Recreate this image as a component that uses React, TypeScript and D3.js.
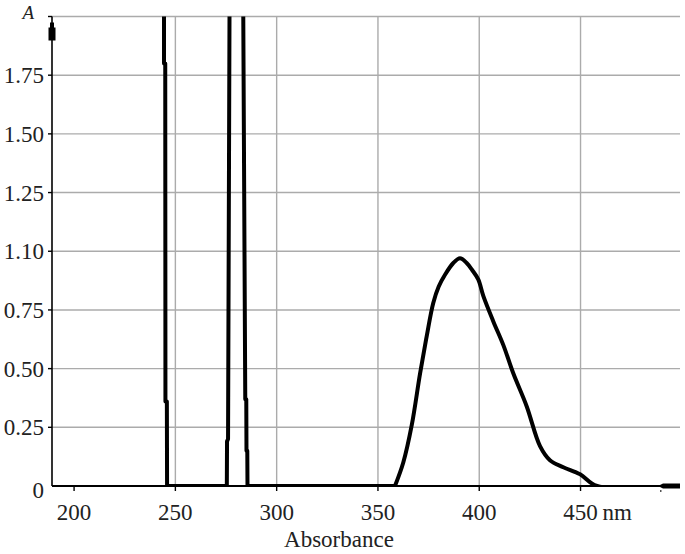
import React, { useEffect, useRef } from "react";
import * as d3 from "d3";

// spectrum (nm, A); values above 2 run off the top and get clipped
const wavelengths = [
    244.4, 244.4, 245.0, 245.1, 245.8, 245.9,
    275.4, 275.5, 276.0, 276.8,
    283.4, 284.5, 285.0, 285.1, 285.5, 285.6,
    358.4, 362.5, 366.7, 370.8, 374.1, 377.3, 380.0, 383.1, 387.2, 390.5,
    393.8, 396.5, 399.5, 402.0, 407.0, 411.9, 416.8, 423.4, 430.0, 434.9,
    441.5, 449.8, 458.2, 499.0,
];
const absorbance = [
    2.2, 1.8, 1.8, 0.36, 0.36, 0,
    0, 0.19, 0.2, 2.2,
    2.2, 0.37, 0.37, 0.15, 0.15, 0,
    0, 0.1, 0.26, 0.48, 0.64, 0.78, 0.85, 0.9, 0.95, 0.97,
    0.95, 0.92, 0.88, 0.81, 0.7, 0.6, 0.48, 0.34, 0.17, 0.11,
    0.08, 0.05, 0, 0,
];

const xTicks = [200, 250, 300, 350, 400, 450];
const xTickLabels = ["200", "250", "300", "350", "400", "450"];
const xGrid = [250, 300, 350, 400, 450];
const yTicks = [0, 0.25, 0.5, 0.75, 1, 1.25, 1.5, 1.75, 2];
const yTickLabels = ["0", "0.25", "0.50", "0.75", "1.10", "1.25", "1.50", "1.75"];
const xUnit = "nm";
const yName = "A";
const xTitle = "Absorbance";

const Chart = () => {
    const ref = useRef<SVGSVGElement>(null);

    useEffect(() => {
        const width = 685;
        const height = 554;
        const left = 52, right = 680, top = 16.5, bottom = 486;
        const font = "Liberation Serif, DejaVu Serif, Noto Serif, Times New Roman, serif";

        const svg = d3.select(ref.current);
        svg.selectAll("*").remove();
        svg.attr("width", width).attr("height", height);

        const x = d3.scaleLinear().domain([189.1, 499.1]).range([left, right]);
        const y = d3.scaleLinear().domain([0, 2]).range([bottom, top]);

        svg.append("rect").attr("width", width).attr("height", height).attr("fill", "#fff");

        // grid
        svg.append("g")
            .selectAll("line")
            .data(yTicks.slice(1))
            .enter()
            .append("line")
            .attr("x1", left).attr("x2", right)
            .attr("y1", (d) => y(d)).attr("y2", (d) => y(d))
            .attr("stroke", "#ababab").attr("stroke-width", 1.4);

        svg.append("g")
            .selectAll("line")
            .data(xGrid)
            .enter()
            .append("line")
            .attr("x1", (d) => x(d)).attr("x2", (d) => x(d))
            .attr("y1", top).attr("y2", bottom)
            .attr("stroke", "#ababab").attr("stroke-width", 1.4);

        // spectrum: sharp steps below 350 nm drawn straight, the broad band smoothed
        svg.append("clipPath").attr("id", "plot-clip")
            .append("rect")
            .attr("x", left).attr("y", top)
            .attr("width", right - left).attr("height", bottom - top);

        const pts = wavelengths.map((w, i) => [w, absorbance[i]] as [number, number]);
        const steps = pts.filter((d) => d[0] <= 358.4);
        const band = pts.filter((d) => d[0] >= 358.4);

        const straight = d3.line<[number, number]>()
            .x((d) => x(d[0]))
            .y((d) => y(d[1]));
        const smooth = d3.line<[number, number]>()
            .x((d) => x(d[0]))
            .y((d) => y(d[1]))
            .curve(d3.curveCatmullRom.alpha(0.5));

        [straight(steps), smooth(band)].forEach((d) => {
            svg.append("path")
                .attr("clip-path", "url(#plot-clip)")
                .attr("d", d)
                .attr("fill", "none")
                .attr("stroke", "#000")
                .attr("stroke-width", 4)
                .attr("stroke-linejoin", "round");
        });

        // axes
        svg.append("line")
            .attr("x1", left).attr("x2", right).attr("y1", bottom).attr("y2", bottom)
            .attr("stroke", "#000").attr("stroke-width", 2);
        svg.append("line")
            .attr("x1", left).attr("x2", left).attr("y1", top).attr("y2", bottom)
            .attr("stroke", "#000").attr("stroke-width", 1.6);

        // arrow heads
        svg.append("path")
            .attr("d", `M${left - 2},${top + 6}h4v5h1.5v13h-7v-13h1.5z`)
            .attr("fill", "#000");
        svg.append("path")
            .attr("d", `M${right - 22},${bottom}l5,-2.5h17v5h-17z`)
            .attr("fill", "#000");
        svg.append("rect")
            .attr("x", right - 20).attr("y", bottom + 4).attr("width", 1.5).attr("height", 2)
            .attr("fill", "#555");

        // ticks
        svg.append("g")
            .selectAll("line")
            .data(xTicks)
            .enter()
            .append("line")
            .attr("x1", (d) => x(d)).attr("x2", (d) => x(d))
            .attr("y1", bottom).attr("y2", bottom + 5)
            .attr("stroke", "#000").attr("stroke-width", 1.4);

        svg.append("g")
            .selectAll("line")
            .data(yTicks.slice(1))
            .enter()
            .append("line")
            .attr("x1", left - 4).attr("x2", left)
            .attr("y1", (d) => y(d)).attr("y2", (d) => y(d))
            .attr("stroke", "#000").attr("stroke-width", 1.4);

        // labels
        svg.append("g")
            .selectAll("text")
            .data(xTickLabels)
            .enter()
            .append("text")
            .attr("x", (d, i) => x(xTicks[i]))
            .attr("y", bottom + 34)
            .attr("text-anchor", "middle")
            .attr("font-family", font)
            .attr("font-size", 23)
            .attr("fill", "#222")
            .text((d) => d);

        svg.append("text")
            .attr("x", x(450) + 22)
            .attr("y", bottom + 34)
            .attr("font-family", font)
            .attr("font-size", 23)
            .attr("fill", "#222")
            .text(xUnit);

        svg.append("g")
            .selectAll("text")
            .data(yTickLabels)
            .enter()
            .append("text")
            .attr("x", 44)
            .attr("y", (d, i) => y(yTicks[i]) + (i === 0 ? 12 : 8))
            .attr("text-anchor", "end")
            .attr("font-family", font)
            .attr("font-size", 23)
            .attr("fill", "#222")
            .text((d) => d);

        svg.append("text")
            .attr("x", 34)
            .attr("y", 18.5)
            .attr("text-anchor", "end")
            .attr("font-family", font)
            .attr("font-style", "italic")
            .attr("font-size", 19)
            .attr("fill", "#222")
            .text(yName);

        svg.append("text")
            .attr("x", 339)
            .attr("y", 547)
            .attr("text-anchor", "middle")
            .attr("font-family", font)
            .attr("font-size", 23)
            .attr("fill", "#222")
            .text(xTitle);
    }, []);

    return <svg ref={ref} style={{ position: "absolute", left: 0, top: 0 }} />;
};

export default function App() {
    return <Chart />;
}
